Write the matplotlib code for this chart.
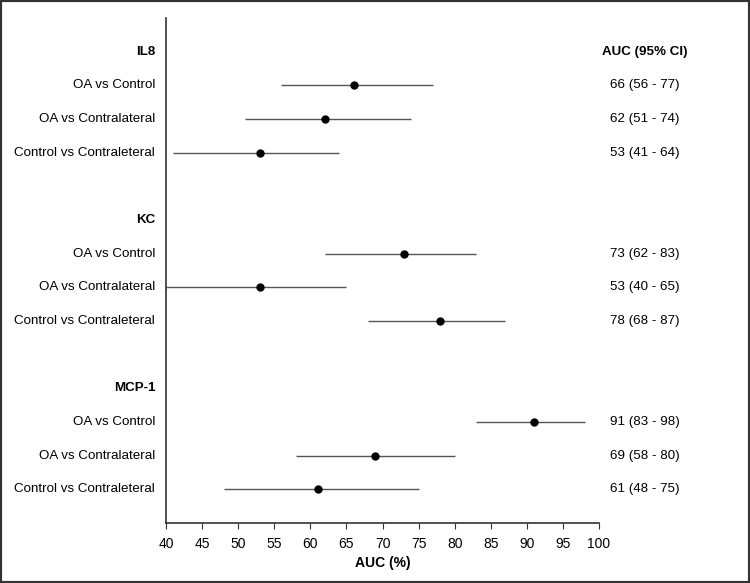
import matplotlib.pyplot as plt
from matplotlib.patches import Rectangle

plt.rcParams['font.family'] = ['Liberation Sans', 'DejaVu Sans']

groups = ['IL8', 'KC', 'MCP-1']
comparisons = ['OA vs Control', 'OA vs Contralateral', 'Control vs Contraleteral']
auc = [[66, 62, 53], [73, 53, 78], [91, 69, 61]]
lower = [[56, 51, 41], [62, 40, 68], [83, 58, 48]]
upper = [[77, 74, 64], [83, 65, 87], [98, 80, 75]]

fig = plt.figure(figsize=(7.5, 5.83), dpi=100)
ax = fig.add_axes([0.2213, 0.1029, 0.5774, 0.8662])

fs = 9.6
row = 0
for g, name in enumerate(groups):
    # group header row
    ax.text(-0.025, row, name, transform=ax.get_yaxis_transform(), ha='right', va='center',
            fontsize=fs, fontweight='bold')
    row += 1
    for k, comp in enumerate(comparisons):
        ax.hlines(row, lower[g][k], upper[g][k], color='#555555', lw=1)
        ax.plot(auc[g][k], row, 'o', color='black', ms=5)
        ax.text(-0.025, row, comp, transform=ax.get_yaxis_transform(), ha='right', va='center',
                fontsize=fs)
        ax.text(1.105, row, f'{auc[g][k]} ({lower[g][k]} - {upper[g][k]})',
                transform=ax.get_yaxis_transform(), ha='center', va='center', fontsize=fs)
        row += 1
    row += 1

ax.text(1.105, 0, 'AUC (95% CI)', transform=ax.get_yaxis_transform(), ha='center', va='center',
        fontsize=fs, fontweight='bold')

ax.set_xlim(40, 100)
ax.set_ylim(14, -1)
ax.set_xticks(range(40, 101, 5))
ax.set_yticks([])
ax.tick_params(axis='x', labelsize=10, length=4, color='#333333', pad=6)
for s in ['top', 'right']:
    ax.spines[s].set_visible(False)
for s in ['left', 'bottom']:
    ax.spines[s].set_color('#333333')
    ax.spines[s].set_linewidth(1.2)
ax.set_xlabel('AUC (%)', fontsize=10, fontweight='bold', labelpad=4)

fig.patches.append(Rectangle((0, 0), 1, 1, transform=fig.transFigure, fill=False,
                             edgecolor='#333333', lw=3))

plt.savefig('out.png', dpi=100)
